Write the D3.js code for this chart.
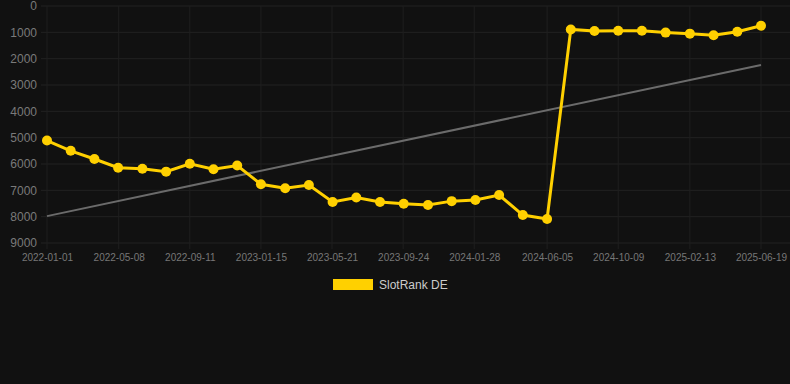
<!DOCTYPE html>
<html>
<head>
<meta charset="utf-8">
<script src="https://cdn.jsdelivr.net/npm/d3@7"></script>
<style>
    body { margin: 0; background: #111111; }
    svg { display: block; font-family: "Liberation Sans", Arial, sans-serif; }
</style>
</head>
<body>
<div id="chart"></div>
<script>
// rank values (lower = better)
var dates = ["2022-01-01", "2022-02-12", "2022-03-26", "2022-05-07", "2022-06-19", "2022-07-31",
    "2022-09-11", "2022-10-23", "2022-12-04", "2023-01-15", "2023-02-27", "2023-04-10",
    "2023-05-22", "2023-07-03", "2023-08-14", "2023-09-25", "2023-11-07", "2023-12-19",
    "2024-01-30", "2024-03-12", "2024-04-23", "2024-06-05", "2024-07-17", "2024-08-28",
    "2024-10-09", "2024-11-20", "2025-01-01", "2025-02-13", "2025-03-27", "2025-05-08",
    "2025-06-19"];
var ranks = [5110, 5500, 5810, 6140, 6180, 6290, 5990, 6200, 6060, 6770, 6920, 6800,
    7440, 7270, 7440, 7510, 7560, 7410, 7370, 7180, 7940, 8090, 890, 950,
    940, 940, 1010, 1050, 1110, 980, 750];
var trendDates = ["2022-01-01", "2025-06-19"];
var trendValues = [7980, 2240];
var xTicks = ["2022-01-01", "2022-05-08", "2022-09-11", "2023-01-15", "2023-05-21", "2023-09-24",
    "2024-01-28", "2024-06-05", "2024-10-09", "2025-02-13", "2025-06-19"];
var yTicks = [0, 1000, 2000, 3000, 4000, 5000, 6000, 7000, 8000, 9000];
var seriesName = "SlotRank DE";

var parseDate = d3.timeParse("%Y-%m-%d");
var width = 790, height = 384;
var margin = {top: 6, right: 29, bottom: 141, left: 47};
var plotW = width - margin.left - margin.right,
    plotH = height - margin.top - margin.bottom;

var data = dates.map(function (d, i) {
    return {date: parseDate(d), rank: ranks[i]};
});
var trend = trendDates.map(function (d, i) {
    return {date: parseDate(d), rank: trendValues[i]};
});

var xScale = d3.scaleTime()
    .domain([parseDate(dates[0]), parseDate(dates[dates.length - 1])])
    .range([0, plotW]);
var yScale = d3.scaleLinear().domain([0, 9000]).range([0, plotH]);

var svg = d3.select("#chart")
    .append("svg")
    .attr("width", width)
    .attr("height", height)
    .style("background", "#111111")
    .append("g")
    .attr("transform", "translate(" + margin.left + "," + margin.top + ")");

// grid
svg.append("g")
    .selectAll("line")
    .data(yTicks)
    .enter().append("line")
    .attr("x1", -6).attr("x2", plotW + 29)
    .attr("y1", function (d) { return yScale(d); })
    .attr("y2", function (d) { return yScale(d); })
    .attr("stroke", "#222222")
    .attr("stroke-width", 1);

svg.append("g")
    .selectAll("line")
    .data(xTicks)
    .enter().append("line")
    .attr("x1", function (d) { return xScale(parseDate(d)); })
    .attr("x2", function (d) { return xScale(parseDate(d)); })
    .attr("y1", 0).attr("y2", plotH + 6)
    .attr("stroke", "#1f1f1f")
    .attr("stroke-width", 1);

var yAxis = d3.axisLeft(yScale)
    .tickValues(yTicks)
    .tickSize(0)
    .tickPadding(10)
    .tickFormat(d3.format("d"));
var xAxis = d3.axisBottom(xScale)
    .tickValues(xTicks.map(parseDate))
    .tickSize(0)
    .tickPadding(11)
    .tickFormat(d3.timeFormat("%Y-%m-%d"));

svg.append("g")
    .attr("class", "y axis")
    .call(yAxis)
    .call(function (g) { g.select(".domain").remove(); })
    .selectAll("text")
    .attr("fill", "#7a7a7a")
    .style("font-size", "12px");

svg.append("g")
    .attr("class", "x axis")
    .attr("transform", "translate(0," + plotH + ")")
    .call(xAxis)
    .call(function (g) { g.select(".domain").remove(); })
    .selectAll("text")
    .attr("fill", "#777777")
    .style("font-size", "10px");

var line = d3.line()
    .x(function (d) { return xScale(d.date); })
    .y(function (d) { return yScale(d.rank); });

svg.append("path")
    .attr("d", line(trend))
    .attr("fill", "none")
    .attr("stroke", "#6b6b6b")
    .attr("stroke-width", 2);

svg.append("path")
    .attr("d", line(data))
    .attr("fill", "none")
    .attr("stroke", "#ffd000")
    .attr("stroke-width", 3);

svg.append("g")
    .selectAll("circle")
    .data(data)
    .enter().append("circle")
    .attr("cx", function (d) { return xScale(d.date); })
    .attr("cy", function (d) { return yScale(d.rank); })
    .attr("r", 5)
    .attr("fill", "#ffd000");

// legend
var legend = svg.append("g")
    .attr("transform", "translate(" + (333 - margin.left) + "," + (279 - margin.top) + ")");
legend.append("rect")
    .attr("width", 40).attr("height", 11)
    .attr("fill", "#ffd000");
legend.append("text")
    .attr("x", 46).attr("y", 10)
    .attr("fill", "#cccccc")
    .style("font-size", "12px")
    .text(seriesName);
</script>
</body>
</html>
